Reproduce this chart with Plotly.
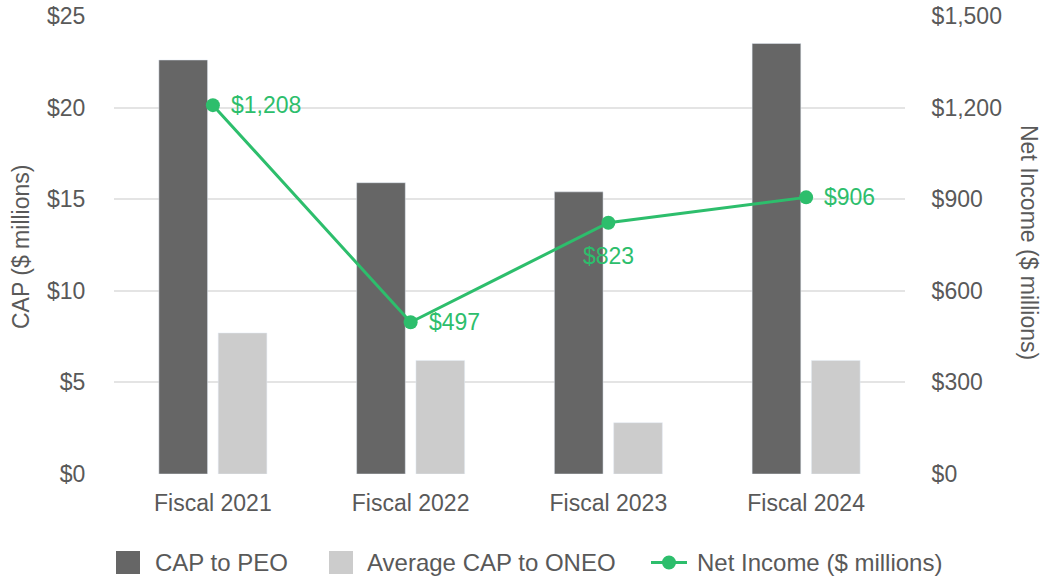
import plotly.graph_objects as go

years = ["Fiscal 2021", "Fiscal 2022", "Fiscal 2023", "Fiscal 2024"]
cap_peo = [22.6, 15.9, 15.4, 23.5]
cap_oneo = [7.7, 6.2, 2.8, 6.2]
net_income = [1208, 497, 823, 906]
ni_labels = ["$1,208", "$497", "$823", "$906"]
series_names = ["CAP to PEO", "Average CAP to ONEO", "Net Income ($ millions)"]

DARK = "#666666"
LIGHT = "#cccccc"
GREEN = "#2dbe6c"
TICK = "#595959"
FONT = "Liberation Sans, Arial, sans-serif"

W, H = 1042, 583
# plot area in pixels
L, R, T, B = 114, 905, 16, 474


def px(x):
    return (x - L) / (R - L)


def py(y):
    return (B - y) / (B - T)


fig = go.Figure()
fig.add_trace(go.Bar(x=years, y=cap_peo, name=series_names[0], marker_color=DARK, showlegend=False))
fig.add_trace(go.Bar(x=years, y=cap_oneo, name=series_names[1], marker_color=LIGHT, showlegend=False))
fig.add_trace(go.Scatter(
    x=years, y=net_income, name=series_names[2], yaxis="y2", mode="lines+markers",
    line=dict(color=GREEN, width=3), marker=dict(color=GREEN, size=14), showlegend=False,
))

annotations = []
# value labels for net income
for i, (yr, v, lab) in enumerate(zip(years, net_income, ni_labels)):
    if i == 2:
        annotations.append(dict(x=yr, y=v, xref="x", yref="y2", text=lab, showarrow=False,
                                xanchor="center", yanchor="middle", yshift=-33,
                                font=dict(color=GREEN, size=23)))
    else:
        annotations.append(dict(x=yr, y=v, xref="x", yref="y2", text=lab, showarrow=False,
                                xanchor="left", yanchor="middle", xshift=16,
                                font=dict(color=GREEN, size=23)))

# axis titles
annotations.append(dict(text="CAP ($ millions)", textangle=-90, xref="paper", yref="paper",
                        x=px(21), y=py(247), xanchor="center", yanchor="middle",
                        showarrow=False, font=dict(size=23, color=TICK)))
annotations.append(dict(text="Net Income ($ millions)", textangle=90, xref="paper", yref="paper",
                        x=px(1029), y=py(242), xanchor="center", yanchor="middle",
                        showarrow=False, font=dict(size=23, color=TICK)))

# legend
leg_y = py(562.5)
shapes = [
    dict(type="rect", xref="paper", yref="paper", x0=px(116), x1=px(140), y0=py(551), y1=py(574),
         fillcolor=DARK, line=dict(width=0)),
    dict(type="rect", xref="paper", yref="paper", x0=px(329), x1=px(353), y0=py(551), y1=py(574),
         fillcolor=LIGHT, line=dict(width=0)),
    dict(type="line", xref="paper", yref="paper", x0=px(651), x1=px(687), y0=leg_y, y1=leg_y,
         line=dict(color=GREEN, width=3)),
    dict(type="circle", xref="paper", yref="paper", x0=px(662), x1=px(676), y0=py(555.5), y1=py(569.5),
         fillcolor=GREEN, line=dict(width=0)),
]
for name, x in zip(series_names, [153, 365, 695]):
    annotations.append(dict(text=name, xref="paper", yref="paper", x=px(x), y=leg_y,
                            xanchor="left", yanchor="middle", showarrow=False,
                            font=dict(size=24, color=TICK)))

fig.update_layout(
    width=W, height=H,
    margin=dict(l=L, r=W - R, t=T, b=H - B),
    paper_bgcolor="white", plot_bgcolor="white",
    font=dict(family=FONT, size=23, color=TICK),
    barmode="group", bargap=0.40, bargroupgap=0.179,
    showlegend=False,
    xaxis=dict(type="category", showline=False, ticks="outside", ticklen=8, tickcolor="white",
               tickfont=dict(size=23, color=TICK), automargin=False),
    yaxis=dict(
        range=[0, 25], dtick=5, tickprefix="$", showgrid=True, gridcolor="#e4e4e4", gridwidth=1.5,
        zeroline=False, ticks="outside", ticklen=23, tickcolor="white", automargin=False,
        ticklabeloverflow="allow",
    ),
    yaxis2=dict(
        range=[0, 1500], dtick=300, tickprefix="$", tickformat=",", overlaying="y", side="right",
        showgrid=False, zeroline=False, ticks="outside", ticklen=21, tickcolor="white", automargin=False,
        ticklabeloverflow="allow",
    ),
    annotations=annotations,
    shapes=shapes,
)

# drop the default page margin so the figure sits at the window's top-left corner
fig.write_html("out.html", config={"displayModeBar": False},
               post_script="document.body.style.margin='0';")
